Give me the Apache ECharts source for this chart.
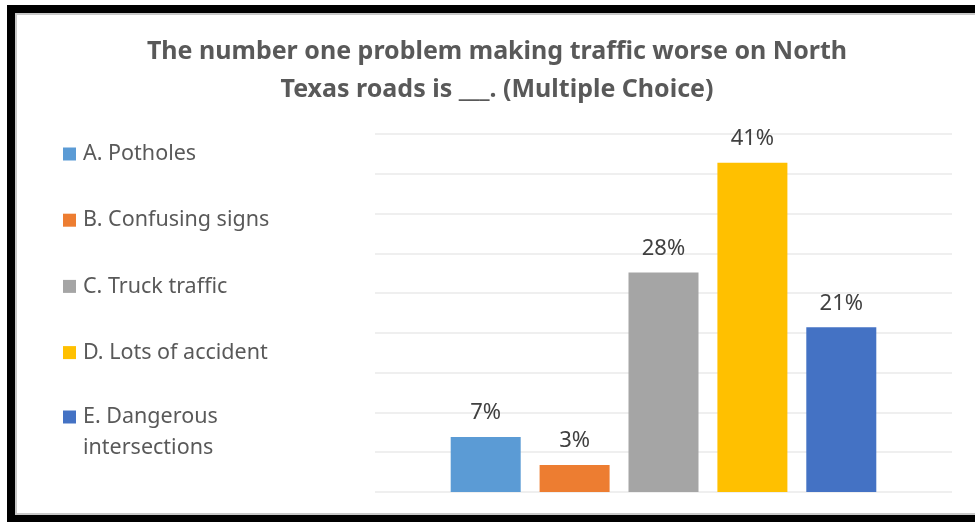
<!DOCTYPE html>
<html><head><meta charset="utf-8">
<script src="https://cdn.jsdelivr.net/npm/echarts@6/dist/echarts.min.js"></script>
<style>html,body{margin:0;padding:0;background:#fff}#c{width:975px;height:523px}</style>
</head><body><div id="c"></div>
<script>
const titleLines = ['The number one problem making traffic worse on North', 'Texas roads is ___. (Multiple Choice)'];
const categories = ['A. Potholes', 'B. Confusing signs', 'C. Truck traffic', 'D. Lots of accident', 'E. Dangerous\nintersections'];
const values = [6.9, 3.4, 27.6, 41.4, 20.7];
const colors = ['#5b9bd5', '#ed7d31', '#a5a5a5', '#ffc000', '#4472c4'];
const yMin = 0, yMax = 45, yStep = 5;

const FONT = 'Noto Sans';
const chart = echarts.init(document.getElementById('c'), null, {renderer: 'canvas'});

const series = categories.map((name, i) => ({
  type: 'bar',
  name: name,
  data: [values[i]],
  barWidth: 70,
  barGap: '27%',
  itemStyle: {color: colors[i]},
  label: {
    show: true, position: 'top', distance: 13,
    formatter: p => Math.round(p.value) + '%', fontFamily: FONT, fontSize: 22, color: '#404040'
  }
}));

const legendBase = {
  orient: 'vertical', left: 58, height: 600,
  itemWidth: 13, itemHeight: 13, itemGap: 42.2, icon: 'rect',
  textStyle: {fontFamily: FONT, fontSize: 21.5, color: '#595959', lineHeight: 24, padding: [0, 0, 0, 2]}
};

chart.setOption({
  animation: false,
  backgroundColor: '#fff',
  title: {
    text: titleLines.join('\n'),
    left: 492, top: 28, textAlign: 'center',
    textStyle: {fontFamily: FONT, fontSize: 25, fontWeight: 'bold', color: '#595959', lineHeight: 38}
  },
  legend: [
    Object.assign({}, legendBase, {top: 137, data: categories.slice(0, 4)}),
    Object.assign({}, legendBase, {
      top: 365.5, data: categories.slice(4),
      formatter: n => '\n' + n,
      textStyle: Object.assign({}, legendBase.textStyle, {lineHeight: 31})
    })
  ],
  grid: {left: 375, right: 23, top: 134, bottom: 31, containLabel: false},
  xAxis: {
    type: 'category', data: [''],
    axisLine: {show: false}, axisTick: {show: false}, axisLabel: {show: false}
  },
  yAxis: {
    type: 'value', min: yMin, max: yMax, interval: yStep,
    axisLine: {show: false}, axisTick: {show: false}, axisLabel: {show: false},
    splitLine: {lineStyle: {color: '#efefef', width: 2}}
  },
  graphic: [
    {type: 'rect', shape: {x: 11, y: 9, width: 1000, height: 509}, style: {fill: null, stroke: '#000', lineWidth: 8}, silent: true},
    {type: 'rect', shape: {x: 16, y: 14, width: 1000, height: 500}, style: {fill: null, stroke: '#c8c8c8', lineWidth: 2}, silent: true}
  ],
  series: series
});
</script></body></html>
